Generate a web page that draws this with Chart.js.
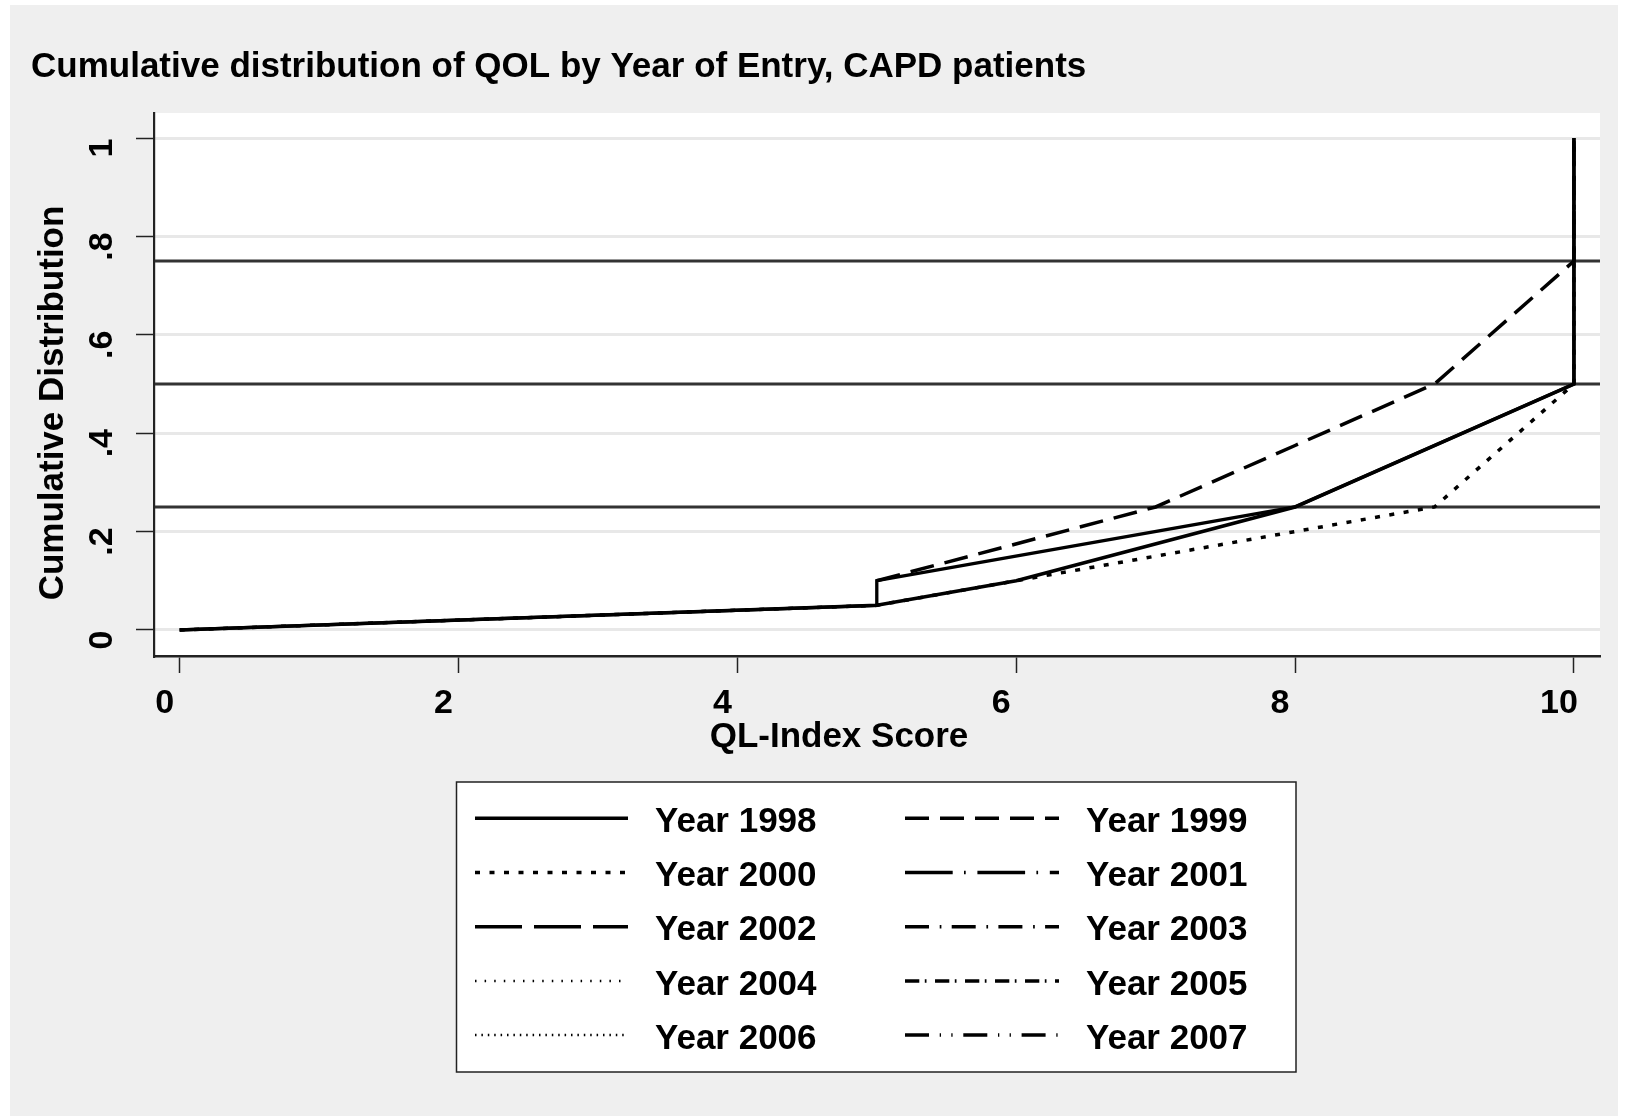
<!DOCTYPE html>
<html>
<head>
<meta charset="utf-8">
<script src="https://cdn.jsdelivr.net/npm/chart.js@4"></script>
<style>
  html, body { margin: 0; padding: 0; background: #ffffff; }
  canvas { display: block; }
</style>
</head>
<body>
<canvas id="c" width="1628" height="1120"></canvas>
<script>
// ---------- data ----------
const chartTitle = 'Cumulative distribution of QOL by Year of Entry, CAPD patients';
const xTitle = 'QL-Index Score';
const yTitle = 'Cumulative Distribution';
const xTickValues = [0, 2, 4, 6, 8, 10];
const xTickLabels = ['0', '2', '4', '6', '8', '10'];
const yTickValues = [0, 0.2, 0.4, 0.6, 0.8, 1];
const yTickLabels = ['0', '.2', '.4', '.6', '.8', '1'];
const refLines = [0.25, 0.5, 0.75];

const seriesLabels = ['Year 1998', 'Year 1999', 'Year 2000', 'Year 2001', 'Year 2002',
                      'Year 2003', 'Year 2004', 'Year 2005', 'Year 2006', 'Year 2007'];

const score1998 = [0, 5, 6, 8, 10, 10];
const cum1998   = [0, 0.05, 0.1, 0.25, 0.5, 1];
const score1999 = [5, 7, 8, 9, 10, 10];
const cum1999   = [0.1, 0.25, 0.375, 0.5, 0.75, 1];
const score2000 = [0, 5, 6, 7, 8, 9, 10, 10];
const cum2000   = [0, 0.05, 0.1, 0.15, 0.2, 0.25, 0.5, 1];
const score2001 = [], cum2001 = [];
const score2002 = [], cum2002 = [];
const score2003 = [], cum2003 = [];
const score2004 = [], cum2004 = [];
const score2005 = [], cum2005 = [];
const score2006 = [], cum2006 = [];
const score2007 = [], cum2007 = [];
// unlabelled solid curve visible in the plot (not listed in the legend)
const scoreExtra = [0, 5, 5, 8, 10, 10];
const cumExtra   = [0, 0.05, 0.1, 0.25, 0.5, 1];

// ---------- styles ----------
const FONT = '"Liberation Sans", Arial, Helvetica, sans-serif';
const dashes = [
  [], [24, 11], [5, 9.5], [47.7, 11.3, 1.7, 11.7], [47, 12],
  [24, 10.7, 1.7, 10.3], [1.5, 8.1], [14.3, 5.5, 1.7, 8.5], [1.5, 4.9],
  [24, 10.7, 1.3, 10.3, 1.3, 10.7]
];
const widths = [3.5, 3.5, 3.5, 3.5, 3.5, 3.5, 2.5, 3.5, 2.5, 3.5];

const xs = [score1998, score1999, score2000, score2001, score2002, score2003, score2004, score2005, score2006, score2007];
const ys = [cum1998, cum1999, cum2000, cum2001, cum2002, cum2003, cum2004, cum2005, cum2006, cum2007];

function pts(x, y) { return x.map((v, i) => ({x: v, y: y[i]})); }

const datasets = seriesLabels.map((lab, i) => ({
  label: lab,
  data: pts(xs[i], ys[i]),
  borderColor: '#000000',
  borderWidth: widths[i],
  borderDash: dashes[i],
  pointRadius: 0,
  fill: false,
  tension: 0,
  showLegendLine: true
}));
datasets.push({
  label: '',
  data: pts(scoreExtra, cumExtra),
  borderColor: '#000000',
  borderWidth: 3.3,
  borderDash: [],
  pointRadius: 0,
  fill: false,
  tension: 0,
  showLegendLine: false
});

// ---------- plugins ----------
const decor = {
  id: 'decor',
  beforeDraw(chart) {
    const ctx = chart.ctx, a = chart.chartArea;
    ctx.save();
    ctx.fillStyle = '#ffffff';
    ctx.fillRect(0, 0, chart.width, chart.height);
    ctx.fillStyle = '#efefef';
    ctx.fillRect(10, 5, 1608, 1111);
    ctx.fillStyle = '#ffffff';
    ctx.fillRect(a.left, a.top, a.right - a.left, a.bottom - a.top);
    ctx.restore();
  },
  beforeDatasetsDraw(chart) {
    const ctx = chart.ctx, a = chart.chartArea, ys = chart.scales.y;
    ctx.save();
    ctx.strokeStyle = '#333333';
    ctx.lineWidth = 3;
    refLines.forEach(v => {
      const py = ys.getPixelForValue(v);
      ctx.beginPath();
      ctx.moveTo(a.left + 1, py);
      ctx.lineTo(a.right, py);
      ctx.stroke();
    });
    ctx.restore();
  },
  afterDraw(chart) {
    const ctx = chart.ctx, xsS = chart.scales.x, ysS = chart.scales.y;
    ctx.save();
    ctx.fillStyle = '#000000';
    // title
    ctx.font = 'bold 35px ' + FONT;
    ctx.textAlign = 'left';
    ctx.textBaseline = 'alphabetic';
    ctx.fillText(chartTitle, 31, 77);
    // x tick labels
    ctx.font = 'bold 34px ' + FONT;
    ctx.textAlign = 'center';
    xTickValues.forEach((v, i) => {
      ctx.fillText(xTickLabels[i], xsS.getPixelForValue(v) - 15, 713);
    });
    // y tick labels (rotated)
    yTickValues.forEach((v, i) => {
      ctx.save();
      ctx.translate(112, ysS.getPixelForValue(v) + 10);
      ctx.rotate(-Math.PI / 2);
      ctx.fillText(yTickLabels[i], 0, 0);
      ctx.restore();
    });
    // axis titles
    ctx.font = 'bold 35px ' + FONT;
    ctx.fillText(xTitle, 839, 747);
    ctx.save();
    ctx.translate(63, 403);
    ctx.rotate(-Math.PI / 2);
    ctx.fillText(yTitle, 0, 0);
    ctx.restore();
    // legend
    const bx = 456.5, by = 782, bw = 839.5, bh = 290;
    ctx.fillStyle = '#ffffff';
    ctx.fillRect(bx, by, bw, bh);
    ctx.strokeStyle = '#222222';
    ctx.lineWidth = 1.5;
    ctx.strokeRect(bx, by, bw, bh);
    const items = chart.data.datasets.filter(d => d.showLegendLine);
    const colLineX = [[475, 628], [905, 1059]];
    const colTextX = [655, 1086];
    ctx.font = 'bold 35px ' + FONT;
    ctx.textAlign = 'left';
    items.forEach((d, i) => {
      const col = i % 2, row = Math.floor(i / 2);
      const ly = 818.3 + row * 54.2;
      ctx.save();
      ctx.strokeStyle = '#000000';
      ctx.lineWidth = d.borderWidth;
      ctx.setLineDash(d.borderDash);
      ctx.beginPath();
      ctx.moveTo(colLineX[col][0], ly);
      ctx.lineTo(colLineX[col][1], ly);
      ctx.stroke();
      ctx.restore();
      ctx.fillStyle = '#000000';
      ctx.fillText(d.label, colTextX[col], ly + 13.7);
    });
    ctx.restore();
  }
};

new Chart(document.getElementById('c'), {
  type: 'line',
  data: { datasets },
  options: {
    responsive: false,
    animation: false,
    devicePixelRatio: 1,
    parsing: true,
    layout: { padding: { left: 154, right: 28, top: 113, bottom: 464 } },
    plugins: { legend: { display: false }, title: { display: false }, tooltip: { enabled: false } },
    scales: {
      x: {
        type: 'linear',
        min: -0.184, max: 10.187,
        afterBuildTicks: s => { s.ticks = xTickValues.map(v => ({value: v})); },
        afterFit: s => { s.height = 0; },
        ticks: { display: false },
        grid: { drawOnChartArea: false, drawTicks: true, tickLength: 17, tickColor: '#222222', tickWidth: 1.5 },
        border: { display: true, color: '#222222', width: 2.5 }
      },
      y: {
        type: 'linear',
        min: -0.053, max: 1.051,
        afterBuildTicks: s => { s.ticks = yTickValues.map(v => ({value: v})); },
        afterFit: s => { s.width = 0; },
        ticks: { display: false },
        grid: { drawOnChartArea: true, color: '#e8e8e8', lineWidth: 3, drawTicks: true, tickLength: 18, tickColor: '#222222', tickWidth: 1.5 },
        border: { display: true, color: '#222222', width: 2.2 }
      }
    }
  },
  plugins: [decor]
});
</script>
</body>
</html>
